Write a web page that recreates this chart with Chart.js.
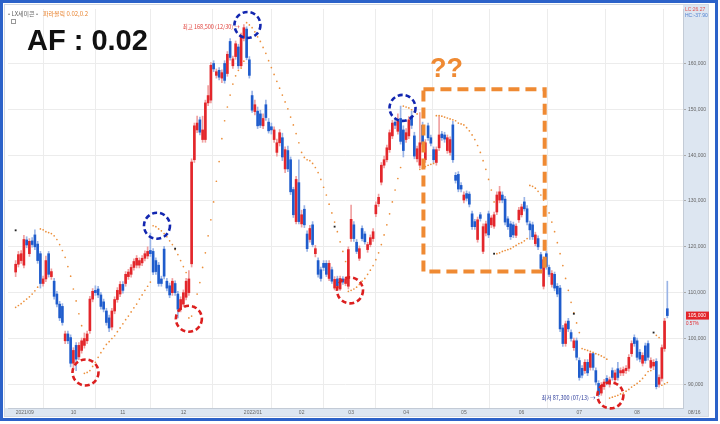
<!DOCTYPE html>
<html>
<head>
<meta charset="utf-8">
<script src="https://cdn.jsdelivr.net/npm/chart.js@4.4.1/dist/chart.umd.min.js"></script>
<style>
  html, body { margin: 0; padding: 0; background: #fff; }
  #moldura { position: absolute; left: 0; top: 0; width: 712px; height: 415px; border: 3px solid #2c62c9; }
  #caixa { position: absolute; left: 4px; top: 4px; width: 705px; height: 413px; }
</style>
</head>
<body>
<div id="moldura"></div>
<div id="caixa"><canvas id="grafico" width="705" height="413"></canvas></div>
<script>
// precos em milhares de won, um candle por pregao
var abertura = [
  114.5, 116.2, 117, 116, 121.5, 118.5, 121.3, 122.6, 120.6, 118.5,
  112, 113, 118.5, 113.5, 112.5, 109.7, 107.5, 107, 99.5, 101,
  100.2, 94.6, 98.5, 96, 97.4, 98.5, 99.5, 101.7, 108.6, 110.5,
  110.8, 109.5, 108, 106, 104.5, 102.5, 106, 108.5, 109.7, 111.8,
  112, 113.5, 114, 115.5, 116, 116, 116.5, 117.5, 118, 119.2,
  119, 117, 116, 113, 119.5, 112.5, 111.5, 110, 112, 109.7,
  106.4, 107.5, 109, 110, 116.3, 139, 145.5, 147.7, 143.4, 143.4,
  151.4, 152, 160, 157.4, 158.5, 156.8, 160, 157.8, 164.8, 159.5,
  161.5, 163.6, 159.5, 165.5, 167.5, 160.8, 153, 149.5, 149.6, 149,
  146.4, 151, 147.2, 146.2, 143.4, 140.6, 142.7, 143.8, 137, 141,
  139, 132.5, 125.5, 134, 125, 128.2, 122.8, 121.6, 124.8, 118.5,
  117, 115, 116.4, 116.4, 113.1, 115, 111, 113, 110.8, 113,
  112, 111.4, 121.8, 124.8, 121, 117.5, 124, 122.8, 119.4, 120.5,
  121.8, 127.2, 129.4, 134.1, 137.8, 139, 141.2, 144.2, 147.2, 145.2,
  148, 145.5, 143.4, 144.2, 148.5, 144.2, 139.2, 137.8, 146.5, 139,
  146.4, 143.8, 141.2, 138.4, 141.6, 144.6, 144.4, 141, 140.6, 146.6,
  135.6, 135.8, 133.4, 130.2, 131.6, 131.5, 127.2, 125.5, 121.6, 127,
  119, 123, 127.2, 124.8, 124.5, 127.6, 130.2, 131.3, 130.4, 126.1,
  125, 124.8, 122.5, 125.9, 127, 129.8, 128.3, 125, 124.8, 120.7,
  121.8, 118.3, 111.4, 118.5, 115.5, 111.8, 114, 111.4, 111, 102.3,
  98.9, 103.8, 101.3, 98, 99.5, 95.2, 93.5, 93, 94.8, 93.7,
  96.7, 93, 90.2, 88.1, 89.5, 91.3, 90, 93, 91, 93.4,
  92.5, 92.5, 93, 93.5, 96.7, 100.2, 99.5, 97, 94.6, 98.4,
  98.9, 93.7, 94, 95, 90, 91.3, 97.8, 106.5
];
var maxima = [
  117, 119, 119.2, 122.5, 122.2, 121.8, 122, 123.7, 121.2, 119,
  113.6, 118, 119, 115.2, 113.1, 110.3, 108.1, 107.6, 101.6, 101.6,
  100.8, 98, 99.1, 99.1, 100.1, 101.2, 101.6, 109.2, 110.9, 111.5,
  111.4, 110.1, 108.6, 106.6, 105.1, 106.6, 109.1, 111.1, 112.4, 112.4,
  114.6, 115.1, 116.1, 117.4, 118.1, 117.6, 118.1, 119.1, 120, 123,
  119.6, 117.6, 116.6, 113.6, 120.1, 113.1, 112.1, 113.1, 112.6, 110.3,
  109.1, 110.6, 113.1, 114.8, 139.2, 147, 148.5, 148.3, 148.5, 152,
  155.2, 160.2, 160.6, 158.8, 159.1, 158.6, 160.6, 162.6, 165.4, 161.6,
  164.9, 164.2, 166.6, 168.5, 168, 161.5, 154, 152, 150.5, 149.8,
  149, 152, 148, 147, 146.2, 143.5, 145.6, 144.8, 141.8, 142,
  139.6, 133, 135.4, 139, 128, 129, 123.5, 124.7, 125.5, 120.3,
  117.6, 115.6, 117, 117, 117, 115.6, 113.5, 113.6, 113.6, 113.5,
  113.4, 120, 129.1, 125.5, 121.6, 120.2, 124.6, 123.3, 121, 122.6,
  124, 129.8, 131.5, 138.4, 139.8, 142.2, 145.5, 147.6, 148, 149,
  150.7, 146.4, 145.8, 148.4, 149.6, 145, 142, 149.3, 147.2, 143.4,
  147, 144.4, 141.8, 141.8, 148.4, 145.2, 145, 144.4, 144, 147.4,
  136.2, 136.4, 134, 132, 132.2, 132, 127.8, 126, 126.5, 127.5,
  125, 125.6, 127.8, 126.8, 127.6, 132, 133.2, 132, 131, 126.6,
  125.6, 125.4, 125, 128.6, 129.3, 130.8, 129, 125.6, 125.4, 123.2,
  122.4, 118.8, 117.8, 119, 116, 114.8, 114.5, 112, 111.6, 102.9,
  103.8, 104.4, 101.9, 100.1, 100.1, 95.8, 94.1, 95.4, 95.4, 96.9,
  96.9, 93.6, 90.8, 90.4, 91.1, 91.9, 91.6, 93.6, 93.1, 94.8,
  93.6, 93.8, 94.1, 96.5, 99.5, 100.8, 100.1, 97.6, 96.9, 99,
  99.5, 95.8, 95.4, 95.6, 92.1, 98.6, 104.4, 112.5
];
var minima = [
  113.5, 115.6, 116.4, 115.4, 119.8, 117.9, 119.9, 119.4, 116.4, 111,
  111.4, 112.4, 113.4, 112.9, 108.6, 106.9, 103.9, 102.9, 98.9, 98.9,
  93.8, 93.6, 93, 95.4, 96.8, 97.9, 98.9, 101.1, 108, 109.4,
  108.9, 106.4, 105.8, 102.9, 101.5, 101.9, 105.4, 107.9, 109.1, 109.9,
  111.4, 112.9, 113.4, 114.9, 115.4, 115.4, 115.9, 116.9, 117.4, 117.9,
  113.9, 114, 111.4, 111.4, 113, 110.4, 108.9, 109.4, 109.4, 104.5,
  105.8, 106.9, 108.4, 109.4, 115.6, 138.4, 144.9, 144.4, 142.8, 142.8,
  150.8, 151.4, 158.2, 156.8, 156.4, 155.8, 155.7, 157.2, 160.7, 158.9,
  160.9, 158.9, 159.2, 164.9, 160.8, 156.8, 149.3, 148.8, 145.8, 146,
  145.8, 147.6, 144.8, 144.6, 142.8, 139.8, 142, 138.8, 136.2, 136.4,
  131.4, 126.4, 125, 125, 124.3, 124.2, 119, 121, 120, 117.8,
  113.4, 112.5, 114.8, 113.5, 112.6, 112, 110.6, 111, 110.5, 111.8,
  111.5, 110.8, 121.2, 121.2, 118.5, 117, 121.3, 120.6, 118.8, 120,
  121.2, 126.6, 128.8, 133.5, 137.2, 138.5, 140.6, 143.6, 145.8, 144.6,
  142.4, 139.6, 142.8, 143.6, 145.8, 139.2, 138.5, 137.2, 141.8, 138.4,
  143.2, 142, 138.4, 137.8, 141, 143.2, 142.8, 140.4, 140, 138.4,
  133.9, 132, 132, 129.6, 130, 128.7, 123.8, 123.8, 121, 125.6,
  118.5, 122.4, 122, 124.2, 124, 127, 129.6, 129.6, 124.8, 123.8,
  121.6, 122, 122, 125.3, 126.5, 127.8, 124.8, 121.6, 121.6, 120.2,
  119.4, 114.7, 110.8, 115.1, 113.5, 111.2, 110.4, 109.1, 101.5, 98.3,
  98.3, 101.5, 99.4, 97.4, 95.3, 90.9, 91.4, 92.4, 91.9, 93.1,
  93.1, 89.9, 87.3, 87.6, 88.9, 89.9, 89.4, 90.9, 90.4, 90.9,
  91.9, 91.9, 92.4, 92.9, 96.1, 98.3, 95.3, 94.9, 94, 94.6,
  95.3, 93.4, 93.2, 89, 89.4, 90.7, 97.2, 104.5
];
var fechamento = [
  116.2, 118.3, 118.5, 121.6, 120.4, 121.2, 120.5, 120, 117, 112,
  113, 117, 114, 114.6, 109.2, 107.5, 104.5, 103.5, 101, 99.5,
  94.6, 97.4, 95.5, 98.5, 99.5, 100, 101, 108.6, 110.3, 110,
  109.5, 107, 106.4, 103.5, 102.3, 106, 108.5, 110.5, 111.8, 110.5,
  114, 114.5, 115.5, 116.8, 117.5, 117, 117.5, 118.5, 119, 118.5,
  114.5, 114.6, 112, 112, 113.6, 111, 109.5, 112.5, 110, 106.4,
  108.5, 110, 112.5, 113, 138.5, 146.4, 147, 145, 145.5, 151.4,
  153, 159.6, 158.8, 158.2, 157, 158, 156.3, 162, 161.3, 161,
  164.3, 159.5, 166, 167.8, 161.3, 157.4, 149.8, 151, 146.4, 146.5,
  148, 148.2, 145.3, 145.5, 145.5, 142.7, 144.9, 139.6, 141.2, 137,
  132, 127, 134.7, 125.5, 127, 124.8, 119.6, 124, 120.5, 119.6,
  114, 113.1, 115.5, 114, 116.4, 112.5, 112.9, 111.5, 113.1, 112.3,
  113, 119.4, 126, 121.8, 119, 119.6, 121.8, 121.1, 120.5, 122,
  123.3, 129.1, 130.8, 137.8, 139, 141.6, 144.9, 147, 146.5, 147.4,
  143, 141, 144.9, 147.7, 146.5, 139.8, 141.4, 142.7, 142.4, 142.7,
  143.8, 142.6, 139, 141.2, 144.4, 143.8, 143.5, 143.8, 143.4, 139,
  134.5, 132.6, 132.6, 131.3, 130.6, 129.3, 124.4, 124.4, 125.9, 126.2,
  124.4, 125, 122.6, 126.3, 127, 131.3, 132, 130.2, 125.4, 124.4,
  122.2, 122.6, 124.5, 128, 128.7, 128.3, 125.4, 123.7, 122.2, 122.6,
  120, 115.3, 117.2, 115.7, 114, 114.2, 111, 109.7, 102.1, 98.9,
  103.2, 102.1, 100, 99.5, 95.9, 91.5, 92, 94.8, 92.5, 96.7,
  93.7, 90.5, 87.8, 89.8, 90.5, 90.5, 91, 91.5, 92.5, 91.5,
  93, 93.2, 93.5, 95.9, 98.9, 98.9, 95.9, 95.5, 96.3, 95.2,
  95.9, 95.2, 94.8, 89.5, 91.5, 98, 103.8, 105
];
// parabolic SAR (0.02, 0.2)
var sar = [
  106.8, 107.2, 107.6, 108.1, 108.6, 109.1, 109.7, 110.4, 111.2, 123.9,
  123.7, 123.3, 123.1, 122.9, 122.4, 121.6, 120.5, 119.2, 117.7, 115.7,
  113.6, 110.8, 108.2, 105.4, 102.8, 92.4, 92.6, 93.0, 93.9, 94.8,
  95.9, 96.9, 97.8, 98.7, 99.3, 100.0, 100.6, 101.5, 102.3, 103.2,
  104.1, 104.9, 105.8, 106.7, 107.5, 108.6, 109.5, 110.5, 111.4, 112.3,
  124.6, 124.4, 123.9, 123.5, 122.9, 122.2, 121.3, 120.5, 119.4, 118.3,
  117.0, 115.7, 114.4, 104.5, 104.9, 107.0, 109.7, 112.2, 115.5, 118.7,
  122.4, 125.9, 129.8, 134.3, 138.6, 143.6, 147.5, 150.5, 153.1, 155.5,
  157.3, 158.5, 159.0, 160.5, 168.9, 168.4, 167.8, 166.9, 165.8, 164.8,
  163.5, 162.2, 160.6, 159.1, 157.6, 156.1, 154.6, 153.1, 151.6, 150.1,
  148.3, 146.6, 144.7, 142.7, 140.6, 139.5, 139.0, 138.8, 138.2, 137.3,
  136.2, 134.7, 133.0, 131.3, 129.3, 127.4, 125.4, 123.3, 121.1, 119.0,
  116.8, 110.3, 110.5, 110.8, 111.2, 111.8, 112.5, 113.1, 114.0, 114.9,
  115.9, 117.2, 118.7, 120.5, 122.6, 124.8, 127.2, 129.8, 132.4, 134.9,
  137.3, 150.7, 150.5, 150.3, 149.9, 149.5, 149.0, 136.9, 137.1, 137.5,
  137.8, 138.0, 138.2, 148.6, 148.6, 148.5, 148.3, 148.1, 147.9, 147.7,
  147.5, 147.0, 146.8, 146.6, 146.0, 145.3, 144.4, 143.4, 142.1, 140.6,
  138.8, 136.9, 134.7, 132.4, 129.8, 118.5, 118.7, 119.0, 119.2, 119.4,
  119.6, 120.0, 120.3, 120.7, 120.9, 121.3, 121.8, 133.4, 133.2, 132.8,
  132.1, 131.3, 130.2, 128.9, 127.4, 125.4, 123.3, 120.9, 118.5, 115.9,
  113.1, 110.5, 107.9, 105.6, 103.4, 101.3, 97.8, 97.6, 97.4, 97.2,
  97.0, 96.7, 96.5, 96.2, 95.9, 95.5, 87.0, 87.2, 87.4, 87.6,
  87.9, 88.1, 88.5, 88.9, 89.4, 89.8, 90.2, 90.7, 91.3, 92.0,
  92.8, 93.0, null, 100.7, 100.2, 89.8, 90.1, 90.4
];
var sinalIdx = [0, 58, 116, 174, 203, 232];
var sinalPreco = [123.6, 119.6, 124.4, 118.5, 105.4, 101.3];

var mesIdx = [0, 20, 38, 60, 83, 103, 121, 141, 162, 183, 204, 225];
var mesLabels = ['2021/09', '10', '11', '12', '2022/01', '02', '03', '04', '05', '06', '07', '08'];
var precoTicks = [90, 100, 110, 120, 130, 140, 150, 160];

var VERMELHO = '#e3262b';
var AZUL = '#1f5ccc';
var LARANJA = '#ef8a33';
var KR = '"Noto Sans CJK KR", sans-serif';
var LAT = '"Liberation Sans", Arial, sans-serif';

var indices = abertura.map(function (_, i) { return i; });
function sobe(i) { return fechamento[i] >= abertura[i]; }

const circulos = [
    { i: 25.4, p: 92.6, cor: '#dc1f1f' },
    { i: 63.0, p: 104.3, cor: '#dc1f1f' },
    { i: 121.6, p: 110.5, cor: '#dc1f1f' },
    { i: 216.3, p: 87.6, cor: '#dc1f1f' },
    { i: 51.4, p: 124.6, cor: '#1226b0' },
    { i: 84.3, p: 168.4, cor: '#1226b0' },
    { i: 140.7, p: 150.3, cor: '#1226b0' }
];

const fundo = {
    id: 'fundo',
    beforeDraw(chart) {
        const { ctx, chartArea: a, width, height } = chart;
        ctx.save();
        ctx.fillStyle = '#fff';
        ctx.fillRect(0, 0, width, height);
        ctx.fillStyle = '#dde6f1';
        ctx.fillRect(a.right, 0, width - a.right, height);
        ctx.fillRect(0, a.bottom, a.right, height - a.bottom);
        ctx.strokeStyle = '#d3d9e1';
        ctx.lineWidth = 1;
        ctx.strokeRect(0.5, 0.5, width - 1, height - 1);
        ctx.restore();
    }
};

const anotacoes = {
    id: 'anotacoes',
    afterDatasetsDraw(chart) {
        const { ctx, scales: { x, y } } = chart;
        const px = v => x.getPixelForValue(v);
        const py = v => y.getPixelForValue(v);
        ctx.save();

        ctx.lineWidth = 2.6;
        ctx.setLineDash([5, 3]);
        circulos.forEach(c => {
            ctx.strokeStyle = c.cor;
            ctx.beginPath();
            ctx.arc(px(c.i), py(c.p), 13, 0, Math.PI * 2);
            ctx.stroke();
        });

        ctx.strokeStyle = LARANJA;
        ctx.lineWidth = 4;
        ctx.setLineDash([11, 6]);
        ctx.strokeRect(px(148.3), py(154.4), px(192.4) - px(148.3), py(114.6) - py(154.4));
        ctx.setLineDash([]);

        // textos sobre o grafico
        ctx.fillStyle = '#111';
        ctx.font = 'bold 29px ' + LAT;
        ctx.textBaseline = 'alphabetic';
        ctx.fillText('AF : 0.02', 23, 46);

        ctx.fillStyle = LARANJA;
        ctx.font = 'bold 27px ' + LAT;
        ctx.fillText('??', 426, 73);

        ctx.font = '6px ' + KR;
        ctx.textBaseline = 'middle';
        ctx.fillStyle = '#666';
        ctx.fillText('• LX세미콘 •', 4, 10);
        ctx.fillStyle = '#e8832f';
        ctx.fillText('파라볼릭 0.02,0.2', 39, 10);
        ctx.strokeStyle = '#999';
        ctx.lineWidth = 1;
        ctx.strokeRect(7.5, 15.5, 4, 4);

        ctx.textAlign = 'right';
        ctx.font = '5.5px ' + KR;
        ctx.fillStyle = '#e0403a';
        ctx.fillText('최고 168,500 (12/30) →', px(83) - 4, py(168.5) + 2);
        ctx.fillStyle = '#2a3a9a';
        ctx.fillText('최저 87,300 (07/13) →', px(212) - 3, py(87.3) + 1);

        // painel da direita
        const a = chart.chartArea;
        ctx.textAlign = 'left';
        ctx.font = '5px ' + LAT;
        ctx.fillStyle = '#e05555';
        ctx.fillText('LC:26.27', a.right + 2, 6);
        ctx.fillStyle = '#4d7fd0';
        ctx.fillText('HC:-37.90', a.right + 2, 12);

        const yAtual = py(fechamento[fechamento.length - 1]);
        ctx.fillStyle = VERMELHO;
        ctx.fillRect(a.right + 3, yAtual - 4, 23, 8);
        ctx.fillStyle = '#fff';
        ctx.fillText('105,000', a.right + 5, yAtual);
        ctx.fillStyle = VERMELHO;
        ctx.font = '4.5px ' + LAT;
        ctx.fillText('0.57%', a.right + 3, yAtual + 8);

        ctx.fillStyle = '#666';
        ctx.font = '5px ' + LAT;
        ctx.fillText('08/16', a.right + 5, a.bottom + 5);
        ctx.restore();
    }
};

function plotarGrafico() {
    const pavios = indices.map(i => ({ x: i, y: [minima[i], maxima[i]] }));
    const corpos = indices.map(i => ({ x: i, y: [abertura[i], fechamento[i]] }));
    const pontosSar = indices.filter(i => sar[i] != null).map(i => ({ x: i, y: sar[i] }));
    const sinais = sinalIdx.map((v, k) => ({ x: v, y: sinalPreco[k] }));

    new Chart(document.getElementById('grafico'), {
        type: 'bar',
        data: {
            datasets: [
                {
                    label: 'pavio',
                    data: pavios,
                    barThickness: 1,
                    grouped: false,
                    backgroundColor: c => sobe(c.dataIndex) ? '#f0a0a0' : '#9ab4e6',
                    order: 3
                },
                {
                    label: 'corpo',
                    data: corpos,
                    barThickness: 2,
                    minBarLength: 1,
                    grouped: false,
                    backgroundColor: c => sobe(c.dataIndex) ? VERMELHO : AZUL,
                    order: 2
                },
                {
                    type: 'line',
                    label: 'SAR',
                    data: pontosSar,
                    showLine: false,
                    pointRadius: 0.85,
                    pointBackgroundColor: '#ec8f3a',
                    pointBorderWidth: 0,
                    order: 1
                },
                {
                    type: 'line',
                    label: 'sinal',
                    data: sinais,
                    showLine: false,
                    pointStyle: 'rect',
                    pointRadius: 1.3,
                    pointBackgroundColor: '#222',
                    pointBorderWidth: 0,
                    order: 0
                }
            ]
        },
        options: {
            responsive: false,
            animation: false,
            layout: { padding: { top: 1, left: 0, right: 0, bottom: 0 } },
            plugins: {
                legend: { display: false },
                tooltip: { enabled: false }
            },
            scales: {
                x: {
                    type: 'linear',
                    min: -2.78,
                    max: 242.7,
                    offset: false,
                    afterBuildTicks: s => { s.ticks = mesIdx.map(v => ({ value: v })); },
                    afterFit: s => { s.height = 9; },
                    ticks: {
                        autoSkip: false,
                        maxRotation: 0,
                        align: 'start',
                        padding: 2,
                        color: '#666',
                        font: { size: 5, family: LAT },
                        callback: v => {
                            const k = mesIdx.indexOf(v);
                            return k >= 0 ? mesLabels[k] : '';
                        }
                    },
                    grid: { color: '#ececec', drawTicks: false },
                    border: { color: '#c3cbd6' }
                },
                y: {
                    position: 'right',
                    min: 84.84,
                    max: 171.88,
                    afterBuildTicks: s => { s.ticks = precoTicks.map(v => ({ value: v })); },
                    afterFit: s => { s.width = 26; },
                    ticks: {
                        padding: 2,
                        crossAlign: 'near',
                        color: '#666',
                        font: { size: 5, family: LAT },
                        callback: v => (v * 1000).toLocaleString('en-US')
                    },
                    grid: { color: '#ececec', tickLength: 3, tickColor: '#aaa' },
                    border: { color: '#c3cbd6' }
                }
            }
        },
        plugins: [fundo, anotacoes]
    });
}

plotarGrafico();
</script>
</body>
</html>
